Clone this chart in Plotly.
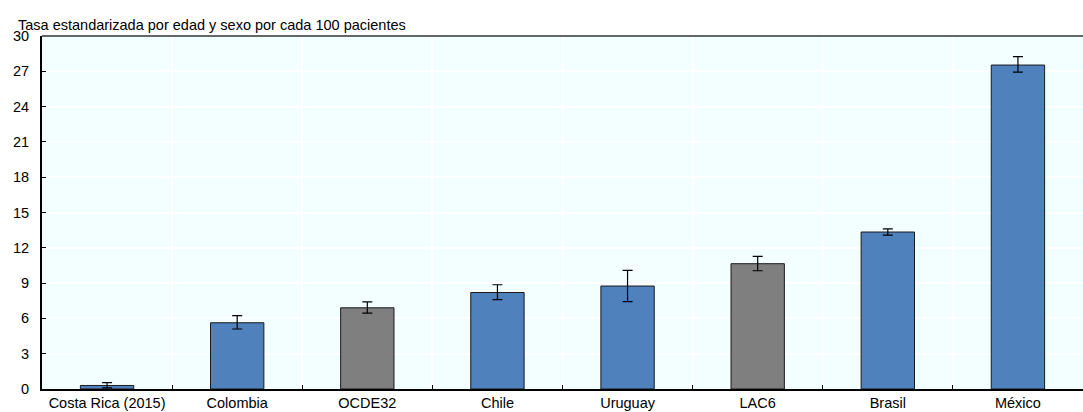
import plotly.graph_objects as go

categories = ["Costa Rica (2015)", "Colombia", "OCDE32", "Chile", "Uruguay", "LAC6", "Brasil", "México"]
values = [0.3, 5.63, 6.9, 8.2, 8.75, 10.65, 13.34, 27.53]
err_high = [0.55, 6.23, 7.4, 8.86, 10.08, 11.27, 13.6, 28.24]
err_low = [0.1, 5.1, 6.45, 7.59, 7.42, 10.05, 13.08, 26.93]
is_aggregate = [False, False, True, False, False, True, False, False]
y_ticks = [0, 3, 6, 9, 12, 15, 18, 21, 24, 27, 30]
title_text = "Tasa estandarizada por edad y sexo por cada 100 pacientes"

BLUE = "#4F81BD"
GREY = "#7F7F7F"
colors = [GREY if a else BLUE for a in is_aggregate]
plus = [h - v for h, v in zip(err_high, values)]
minus = [v - l for v, l in zip(values, err_low)]

FONT = "Liberation Sans, Arial, sans-serif"
FS = 14.5

fig = go.Figure(
    go.Bar(
        x=categories,
        y=values,
        width=0.41,
        marker=dict(color=colors, line=dict(color="#1a1a1a", width=1)),
        error_y=dict(type="data", symmetric=False, array=plus, arrayminus=minus,
                     color="black", thickness=1.2, width=5),
    )
)

fig.update_layout(
    width=1083, height=412,
    margin=dict(l=42, r=0, t=36, b=23),
    paper_bgcolor="white",
    plot_bgcolor="#F3FFFF",
    showlegend=False,
    font=dict(family=FONT, size=FS, color="black"),
    xaxis=dict(
        type="category", range=[-0.5, 7.5], tickson="boundaries",
        ticks="inside", ticklen=4, tickcolor="black",
        showgrid=True, gridcolor="white", gridwidth=1.5,
        showline=True, linecolor="black", linewidth=2,
        tickfont=dict(family=FONT, size=FS), tickangle=0, fixedrange=True,
    ),
    yaxis=dict(
        range=[0, 30], tickvals=y_ticks, ticks="inside", ticklen=4, tickcolor="black",
        showgrid=True, gridcolor="white", gridwidth=1.5, zeroline=False,
        showline=True, linecolor="black", linewidth=2,
        tickfont=dict(family=FONT, size=FS), ticklabelstandoff=8,
    ),
    shapes=[dict(type="line", xref="paper", yref="paper", x0=0, x1=1, y0=1, y1=1,
                 line=dict(color="#333333", width=1.5))],
    annotations=[dict(text=title_text, xref="paper", yref="paper", x=0, y=1,
                      xanchor="left", yanchor="bottom", xshift=-26, yshift=1,
                      showarrow=False, font=dict(family=FONT, size=FS, color="black"))],
)

fig.write_html("out.html", config={"displayModeBar": False},
               post_script="document.body.style.margin='0';")
